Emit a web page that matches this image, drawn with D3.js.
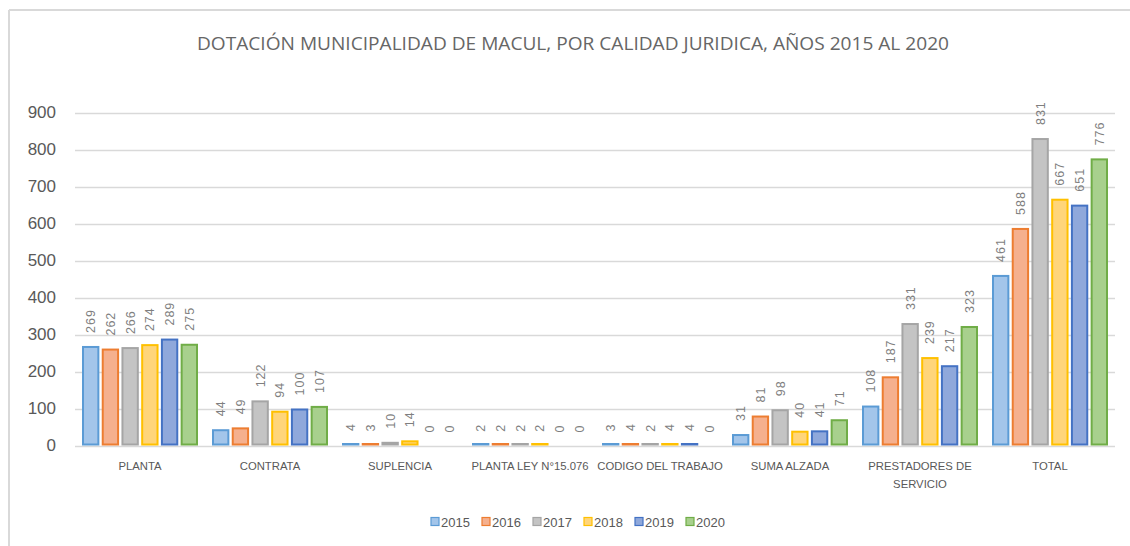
<!DOCTYPE html>
<html>
<head>
<meta charset="utf-8">
<script src="https://cdn.jsdelivr.net/npm/d3@7"></script>
<style>
  html, body { margin: 0; padding: 0; background: #fff; }
  svg { display: block; }
</style>
</head>
<body>
<svg id="chart" width="1130" height="546"></svg>
<script>
const categories = [["PLANTA"], ["CONTRATA"], ["SUPLENCIA"], ["PLANTA LEY N°15.076"], ["CODIGO DEL TRABAJO"], ["SUMA ALZADA"], ["PRESTADORES DE", "SERVICIO"], ["TOTAL"]];
const years = ["2015", "2016", "2017", "2018", "2019", "2020"];
const v2015 = [269, 44, 4, 2, 3, 31, 108, 461];
const v2016 = [262, 49, 3, 2, 4, 81, 187, 588];
const v2017 = [266, 122, 10, 2, 2, 98, 331, 831];
const v2018 = [274, 94, 14, 2, 4, 40, 239, 667];
const v2019 = [289, 100, 0, 0, 4, 41, 217, 651];
const v2020 = [275, 107, 0, 0, 0, 71, 323, 776];
const series = [v2015, v2016, v2017, v2018, v2019, v2020];
const yTicks = [0, 100, 200, 300, 400, 500, 600, 700, 800, 900];
const fills = ["#a3c5ea", "#f5b08e", "#c4c4c4", "#ffd57a", "#8fa8db", "#a8d08d"];
const strokes = ["#5b9bd5", "#ed7d31", "#a5a5a5", "#ffc000", "#4472c4", "#70ad47"];
const title = "DOTACIÓN MUNICIPALIDAD DE MACUL,  POR CALIDAD JURIDICA, AÑOS 2015 AL 2020";

const svg = d3.select("#chart");
const txt = "#595959";
const font = "'Liberation Sans', Arial, sans-serif";

// frame
svg.append("line").attr("x1", 9).attr("x2", 1130).attr("y1", 10).attr("y2", 10).attr("stroke", "#d9d9d9").attr("stroke-width", 2);
svg.append("line").attr("x1", 9).attr("x2", 9).attr("y1", 10).attr("y2", 546).attr("stroke", "#d9d9d9").attr("stroke-width", 2);

// title
svg.append("text").attr("x", 573).attr("y", 50).attr("text-anchor", "middle")
  .attr("font-family", "'Open Sans', sans-serif").attr("font-size", 19).attr("fill", "#666")
  .attr("textLength", 752).attr("lengthAdjust", "spacingAndGlyphs")
  .text(title);

const x0 = d3.scaleBand().domain(d3.range(categories.length)).range([75, 1115]).padding(0);
const x1 = d3.scaleBand().domain(years).range([7, x0.bandwidth() - 7]).paddingInner(0.12);
const y = d3.scaleLinear().domain([0, 900]).range([445.5, 112.5]);

// gridlines
svg.append("g").selectAll("line").data(yTicks).join("line")
  .attr("x1", 75).attr("x2", 1115)
  .attr("y1", d => Math.round(y(d)) + 0.5).attr("y2", d => Math.round(y(d)) + 0.5)
  .attr("stroke", "#d9d9d9").attr("stroke-width", 1.5);

// y axis labels
const yAxis = d3.axisLeft(y).tickValues(yTicks).tickSize(0).tickPadding(0);
const ga = svg.append("g").attr("transform", "translate(56,0)").call(yAxis);
ga.select(".domain").remove();
ga.selectAll("text").attr("font-family", font).attr("font-size", 17).attr("fill", txt);

// bars
const groups = svg.append("g").selectAll("g").data(categories).join("g")
  .attr("transform", (d, i) => `translate(${x0(i)},0)`);

groups.each(function(c, i) {
  const g = d3.select(this);
  years.forEach((yr, j) => {
    const v = series[j][i];
    const bx = x1(yr), bw = x1.bandwidth();
    if (v > 0) {
      const top = Math.min(y(v) + 1, y(0) - 1.5);
      g.append("rect").attr("x", bx + 1).attr("y", top)
        .attr("width", bw - 2).attr("height", Math.max(0.5, y(0) - 1 - top))
        .attr("fill", fills[j]).attr("stroke", strokes[j]).attr("stroke-width", 2);
    }
    const cx = bx + bw / 2;
    const ly = y(v) - 13;
    g.append("text").attr("transform", `translate(${cx},${ly}) rotate(-90)`)
      .attr("dy", "0.35em").attr("text-anchor", "start")
      .attr("font-family", font).attr("font-size", 12.5).attr("letter-spacing", 1)
      .attr("fill", "#7f7f7f").text(v);
  });
  c.forEach((line, k) => {
    g.append("text").attr("x", x0.bandwidth() / 2).attr("y", 470 + k * 18)
      .attr("text-anchor", "middle").attr("font-family", font).attr("font-size", 11.3)
      .attr("fill", txt).text(line);
  });
});

// legend
const legend = svg.append("g").selectAll("g").data(years).join("g")
  .attr("transform", (d, i) => `translate(${431 + i * 51},517.5)`);
legend.append("rect").attr("width", 8).attr("height", 8)
  .attr("fill", (d, i) => fills[i]).attr("stroke", (d, i) => strokes[i]).attr("stroke-width", 1.2);
legend.append("text").attr("x", 10).attr("y", 9).attr("font-family", font).attr("font-size", 13)
  .attr("fill", txt).text(d => d);
</script>
</body>
</html>
